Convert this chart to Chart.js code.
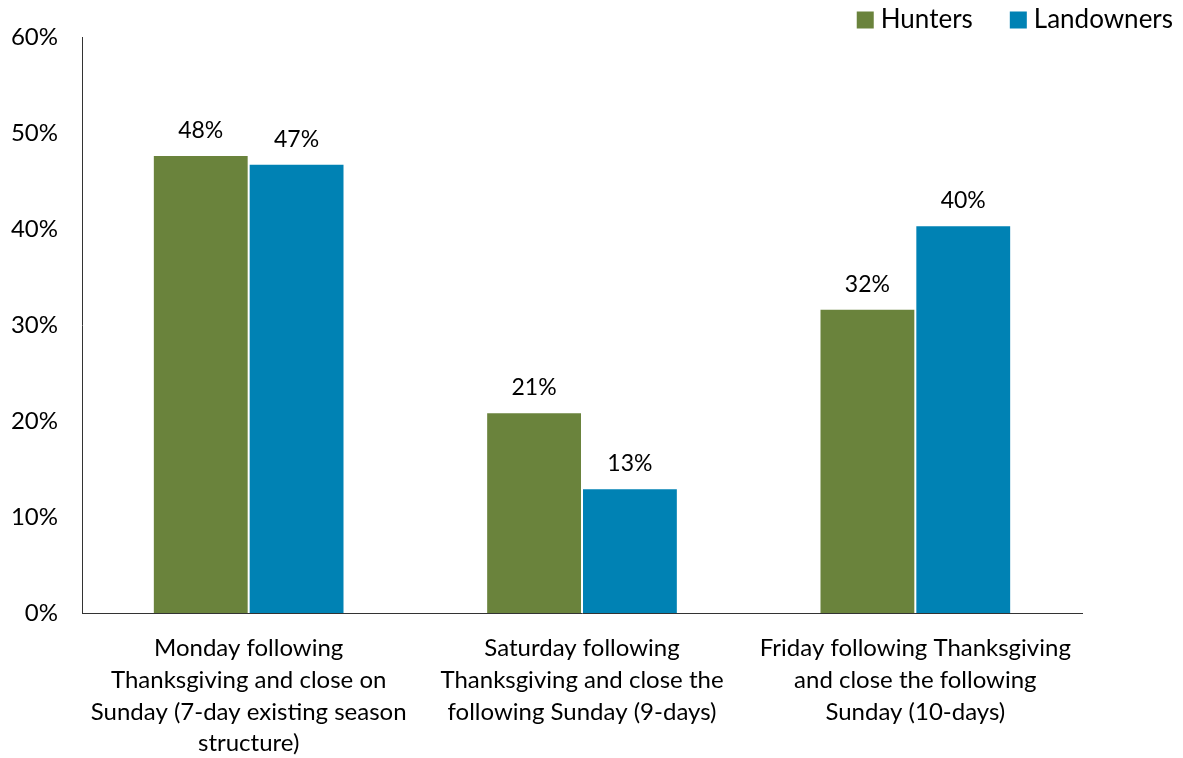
<!DOCTYPE html>
<html>
<head>
<meta charset="utf-8">
<title>Season structure preference</title>
<script src="https://cdn.jsdelivr.net/npm/chart.js@4.4.1/dist/chart.umd.min.js"></script>
<style>
  html, body { margin: 0; padding: 0; background: #fff; }
  #wrap { width: 1183px; height: 758px; }
</style>
</head>
<body>
<div id="wrap"><canvas id="seasonChart" width="1183" height="758"></canvas></div>
<script>
const categories = [
  ['Monday following', 'Thanksgiving and close on', 'Sunday (7-day existing season', 'structure)'],
  ['Saturday following', 'Thanksgiving and close the', 'following Sunday (9-days)'],
  ['Friday following Thanksgiving', 'and close the following', 'Sunday (10-days)']
];
const hunters = [47.7, 20.9, 31.7];
const landowners = [46.8, 13.0, 40.4];
const yTicks = [0, 10, 20, 30, 40, 50, 60];

const FONT = 'Lato, "Open Sans", sans-serif';

// percent labels above each bar
const barValueLabels = {
  id: 'barValueLabels',
  afterDatasetsDraw(chart) {
    const ctx = chart.ctx;
    ctx.save();
    ctx.font = '23px ' + FONT;
    ctx.fillStyle = '#000';
    ctx.textAlign = 'center';
    ctx.textBaseline = 'bottom';
    chart.data.datasets.forEach((ds, i) => {
      chart.getDatasetMeta(i).data.forEach((bar, j) => {
        ctx.fillText(Math.round(ds.data[j]) + '%', bar.x, bar.y - 13);
      });
    });
    ctx.restore();
  }
};

// legend in the top right corner, laid out right to left
const cornerLegend = {
  id: 'cornerLegend',
  afterDraw(chart) {
    const ctx = chart.ctx;
    const box = 17, gap = 7, spacing = 37, midY = 20;
    ctx.save();
    ctx.font = '26px ' + FONT;
    ctx.textBaseline = 'middle';
    ctx.textAlign = 'left';
    let x = chart.width - 10;
    const sets = chart.data.datasets.slice().reverse();
    sets.forEach(ds => {
      const w = ctx.measureText(ds.label).width;
      const textX = x - w;
      const boxX = textX - gap - box;
      ctx.fillStyle = ds.backgroundColor;
      ctx.fillRect(boxX, midY - box / 2, box, box);
      ctx.fillStyle = '#000';
      ctx.fillText(ds.label, textX, midY);
      x = boxX - spacing;
    });
    ctx.restore();
  }
};

const ctx = document.getElementById('seasonChart').getContext('2d');
const seasonChart = new Chart(ctx, {
  type: 'bar',
  data: {
    labels: categories,
    datasets: [
      {
        label: 'Hunters',
        data: hunters,
        backgroundColor: '#6a833c',
        borderColor: 'rgba(255,255,255,0.7)',
        borderWidth: 1
      },
      {
        label: 'Landowners',
        data: landowners,
        backgroundColor: '#0082b4',
        borderColor: 'rgba(255,255,255,0.7)',
        borderWidth: 1
      }
    ]
  },
  options: {
    responsive: false,
    maintainAspectRatio: false,
    animation: false,
    categoryPercentage: 0.575,
    barPercentage: 1.0,
    layout: { padding: { left: 0, right: 0, top: 37, bottom: 0 } },
    plugins: {
      tooltip: { enabled: false },
      legend: { display: false }
    },
    scales: {
      x: {
        grid: { display: false },
        border: { display: true, color: '#333', width: 1 },
        ticks: {
          color: '#000',
          font: { family: FONT, size: 24, lineHeight: 1.33 },
          padding: 11,
          maxRotation: 0,
          autoSkip: false
        },
        afterFit(s) { s.height = 145; }
      },
      y: {
        min: 0,
        max: 60,
        afterBuildTicks(s) { s.ticks = yTicks.map(v => ({ value: v })); },
        grid: { display: false },
        border: { display: true, color: '#333', width: 1 },
        ticks: {
          color: '#000',
          font: { family: FONT, size: 24 },
          padding: 16,
          callback: v => v + '%'
        },
        afterFit(s) { s.width = 82; }
      },
      yRight: {
        position: 'right',
        display: true,
        grid: { display: false },
        border: { display: false },
        ticks: { display: false },
        afterFit(s) { s.width = 101; }
      }
    }
  },
  plugins: [barValueLabels, cornerLegend]
});
</script>
</body>
</html>
